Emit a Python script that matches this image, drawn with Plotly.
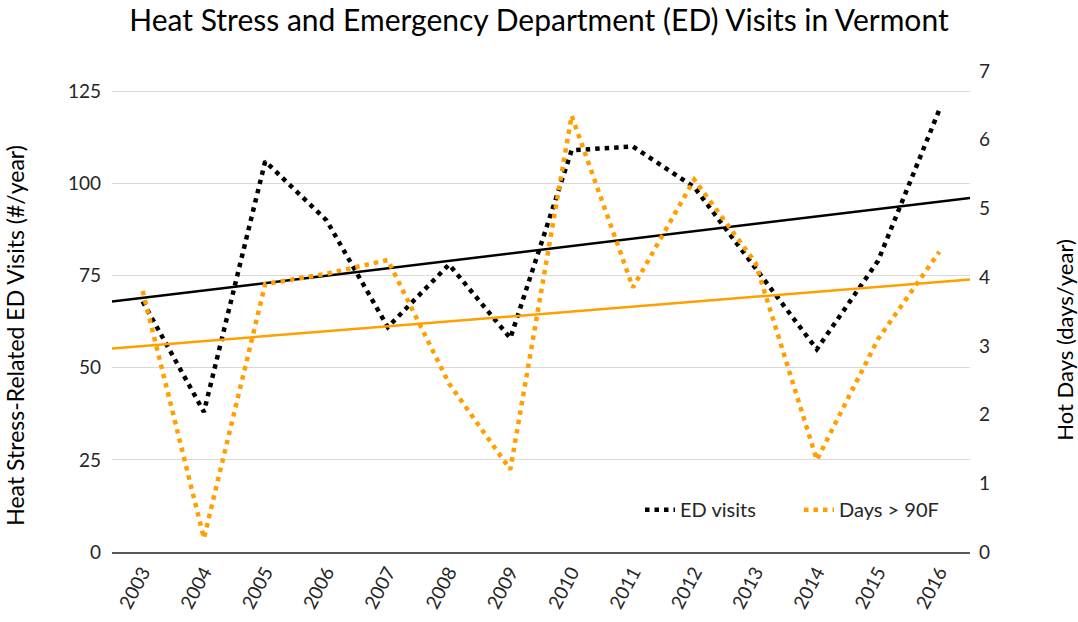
import numpy as np
import plotly.graph_objects as go

years = [2003, 2004, 2005, 2006, 2007, 2008, 2009, 2010, 2011, 2012, 2013, 2014, 2015, 2016]
year_labels = [str(y) for y in years]
ed_visits = [68, 38, 106, 90, 61, 78, 58, 109, 110, 99, 77, 55, 79, 120]
hot_days = [3.8, 0.2, 3.9, 4.05, 4.25, 2.45, 1.2, 6.35, 3.85, 5.42, 4.21, 1.34, 3.1, 4.37]
left_ticks = [0, 25, 50, 75, 100, 125]
right_ticks = [0, 1, 2, 3, 4, 5, 6, 7]

BLACK = "#000000"
ORANGE = "#FFA000"
FONT = "Lato"
TXT = "#262626"

x_lo, x_hi = years[0] - 0.5, years[-1] + 0.5
trend_x = [x_lo, x_hi]
p_ed = np.polyfit(years, ed_visits, 1)
p_hd = np.polyfit(years, hot_days, 1)

fig = go.Figure()
fig.add_trace(go.Scatter(x=years, y=ed_visits, mode="lines", name="ED visits",
                         line=dict(color=BLACK, width=4.5, dash="4.5px,5px")))
fig.add_trace(go.Scatter(x=years, y=hot_days, mode="lines", name="Days > 90F", yaxis="y2",
                         line=dict(color=ORANGE, width=4.5, dash="4.5px,5px")))
fig.add_trace(go.Scatter(x=trend_x, y=list(np.polyval(p_ed, trend_x)), mode="lines",
                         showlegend=False, line=dict(color=BLACK, width=2.5)))
fig.add_trace(go.Scatter(x=trend_x, y=list(np.polyval(p_hd, trend_x)), mode="lines",
                         showlegend=False, yaxis="y2", line=dict(color=ORANGE, width=2.5)))

fig.update_layout(
    width=1078, height=622,
    margin=dict(l=112, r=108, t=71, b=70, autoexpand=False),
    paper_bgcolor="white", plot_bgcolor="white",
    font=dict(family=FONT, color=TXT, size=18),
    showlegend=True,
    legend=dict(orientation="h", x=(640 - 112) / 858, xanchor="left", y=0.088, yanchor="middle",
                font=dict(size=20, color=TXT), bgcolor="rgba(0,0,0,0)",
                itemwidth=30, entrywidth=114, entrywidthmode="pixels", traceorder="normal"),
    xaxis=dict(range=[x_lo, x_hi], tickvals=years, ticktext=year_labels,
               tickangle=-62, showgrid=False, zeroline=False, automargin=False,
               showline=True, linecolor="#595959", linewidth=1.5,
               ticks="", tickfont=dict(size=19, color=TXT)),
    yaxis=dict(range=[0, 130.5], tickvals=left_ticks, showgrid=True, automargin=False,
               gridcolor="#D9D9D9", gridwidth=1, zeroline=False, showline=False,
               ticks="", ticklabelstandoff=10, tickfont=dict(size=19, color=TXT)),
    yaxis2=dict(range=[0, 7], tickvals=right_ticks, overlaying="y", side="right",
                showgrid=False, zeroline=False, showline=False, ticks="", automargin=False,
                ticklabelstandoff=8, tickfont=dict(size=19, color=TXT)),
    title=dict(text="Heat Stress and Emergency Department (ED) Visits in Vermont",
               x=0.5, xanchor="center", y=0.967, yanchor="middle",
               font=dict(size=30, color="#000000", family=FONT)),
    annotations=[
        dict(text="Heat Stress-Related ED Visits (#/year)", xref="paper", yref="paper",
             x=(15 - 112) / 858, xanchor="center", y=(552.5 - 336) / 481.5, yanchor="middle",
             textangle=-90, showarrow=False, font=dict(size=23, color="#000000")),
        dict(text="Hot Days (days/year)", xref="paper", yref="paper",
             x=(1065 - 112) / 858, xanchor="center", y=(552.5 - 340) / 481.5, yanchor="middle",
             textangle=-90, showarrow=False, font=dict(size=22, color="#000000")),
    ],
)

fig.write_html("out.html", config={"displayModeBar": False},
               post_script="document.body.style.margin='0';")
